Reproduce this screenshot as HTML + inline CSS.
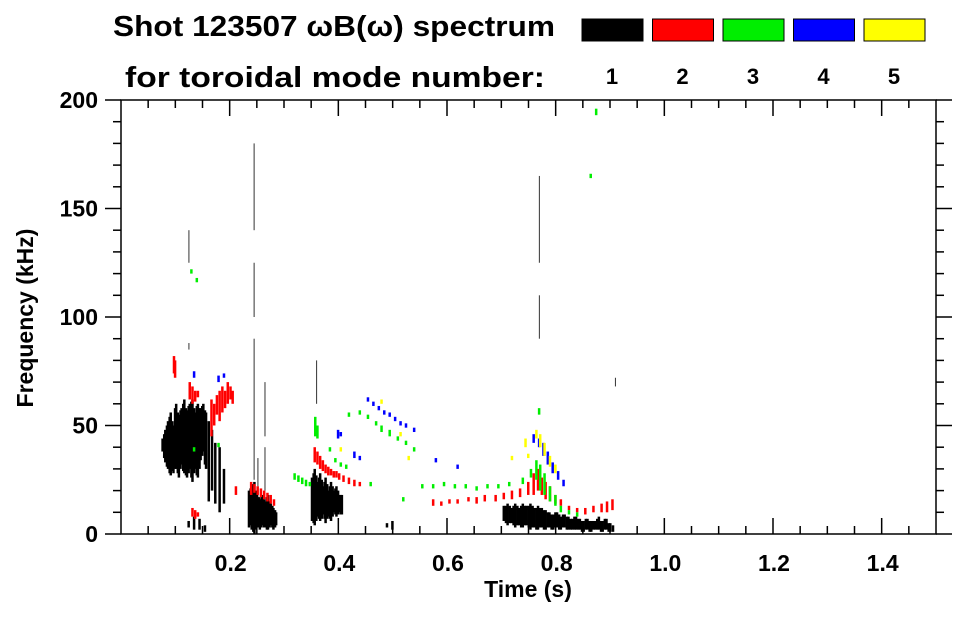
<!DOCTYPE html>
<html><head><meta charset="utf-8"><style>
body{margin:0;background:#fff;}
svg text{font-family:"Liberation Sans",Arial,sans-serif;font-weight:bold;fill:#000;}
</style></head><body>
<svg id="chart" width="963" height="615" viewBox="0 0 963 615" xmlns="http://www.w3.org/2000/svg">
<text x="113" y="36" font-size="29" textLength="442" lengthAdjust="spacingAndGlyphs">Shot 123507 ωB(ω) spectrum</text>
<text x="125" y="87" font-size="29" textLength="420" lengthAdjust="spacingAndGlyphs">for toroidal mode number:</text>
<g id="legend"></g>
<g id="marks"></g>
<g id="axes"></g>
<text x="528" y="597" font-size="23" text-anchor="middle">Time (s)</text>
<text transform="translate(33,318) rotate(-90)" font-size="23" text-anchor="middle">Frequency (kHz)</text>
</svg>
<script>
// data: [time s, freq low kHz, freq high kHz]
const modeLabels = ["1","2","3","4","5"];
const modeColors = ["#000000","#ff0000","#00ee00","#0000ff","#ffff00"];
const xTicks = [0.2,0.4,0.6,0.8,1.0,1.2,1.4];
const xTickLabels = ["0.2","0.4","0.6","0.8","1.0","1.2","1.4"];
const yTicks = [0,50,100,150,200];
const mode1 = [
 [0.077,38,44],[0.080,35,46],[0.082,33,48],[0.085,31,50],[0.087,30,52],[0.090,28,54],[0.092,27,56],[0.095,29,52],[0.097,28,50],[0.100,30,58],[0.102,30,60],[0.105,28,56],[0.107,26,55],[0.110,30,57],[0.112,32,58],
 [0.115,29,60],[0.117,28,62],[0.120,27,58],[0.122,26,57],[0.125,28,59],[0.127,30,60],[0.130,26,61],[0.132,24,62],[0.135,28,58],[0.137,30,56],[0.140,27,59],[0.142,26,60],[0.145,30,58],[0.147,34,58],[0.150,36,59],[0.152,38,60],
 [0.155,32,57],[0.157,30,56],[0.162,15,52],[0.168,20,48],[0.174,14,42],[0.182,10,40],[0.190,14,30],
 [0.125,3,6],[0.135,2,8],[0.145,2,7],[0.155,1,4],
 [0.236,3,20],[0.239,4,21],[0.241,2,22],[0.244,1,23],[0.246,0,24],[0.249,2,20],[0.251,3,19],[0.254,3,17],[0.256,2,16],[0.259,3,17],[0.261,4,18],[0.264,3,16],[0.266,3,15],[0.269,2,17],[0.271,2,18],[0.274,3,15],[0.276,4,14],[0.279,3,13],[0.281,2,12],[0.284,3,11],[0.286,4,10],
 [0.352,6,26],[0.355,5,28],[0.357,4,30],[0.360,6,27],[0.362,8,24],[0.365,7,26],[0.367,6,28],[0.370,7,25],[0.372,9,22],[0.375,7,24],[0.377,5,26],[0.380,7,23],[0.382,8,20],[0.385,7,22],[0.387,6,24],[0.390,8,22],[0.392,10,20],[0.395,9,21],[0.397,8,22],[0.400,9,20],[0.402,10,18],[0.405,9,18],[0.407,9,18],
 [0.49,3,5],[0.50,2,6],
 [0.705,6,13],[0.709,5,13],[0.712,4,14],[0.716,5,13],[0.719,5,12],[0.723,4,13],[0.726,3,14],[0.730,4,13],[0.733,4,12],[0.737,3,13],[0.740,3,14],[0.744,4,13],[0.747,4,13],[0.751,3,13],[0.754,2,14],[0.758,3,13],[0.761,3,12],[0.765,2,12],[0.768,2,13],[0.772,3,12],[0.775,3,12],
 [0.779,2,11],[0.782,2,11],[0.786,3,10],[0.789,3,10],[0.793,2,9],[0.796,2,9],[0.800,3,10],[0.803,3,10],[0.807,2,9],[0.810,2,8],[0.814,3,9],[0.817,3,9],[0.821,2,8],[0.824,2,8],[0.828,2,7],[0.831,2,7],[0.835,2,8],[0.838,2,8],[0.842,2,7],[0.845,2,7],[0.849,1,6],[0.852,1,6],[0.856,2,7],[0.859,2,7],
 [0.863,1,6],[0.866,1,6],[0.870,2,6],[0.873,2,6],[0.877,2,7],[0.880,2,8],[0.884,1,6],[0.887,1,6],[0.891,2,7],[0.894,2,7],[0.898,1,5],[0.901,1,5],[0.906,1,4]
];
// thin vertical streaks (mode 1)
const mode1Spikes = [
 [0.125,85,88],[0.125,125,140],[0.245,25,90],[0.245,100,125],[0.245,140,180],[0.265,20,40],[0.265,45,70],[0.252,22,35],
 [0.36,60,80],[0.77,90,110],[0.77,125,165],[0.91,68,72]
];
const mode2 = [
 [0.098,74,82],[0.100,72,80],[0.127,62,70],[0.132,60,68],[0.137,61,66],[0.142,63,66],
 [0.167,45,62],[0.172,50,60],[0.177,55,64],[0.182,52,66],[0.187,56,68],[0.192,58,66],[0.197,60,70],[0.202,62,68],[0.206,60,66],
 [0.132,8,12],[0.137,7,11],[0.142,8,10],[0.212,18,22],
 [0.240,18,24],[0.246,19,23],[0.252,18,22],[0.258,17,21],[0.264,16,20],[0.270,15,19],[0.276,14,18],[0.282,13,16],
 [0.357,33,40],[0.362,32,38],[0.367,30,36],[0.372,29,34],[0.377,28,32],[0.382,27,31],[0.387,27,30],[0.392,26,29],[0.397,26,29],[0.402,25,28],[0.410,24,27],[0.420,23,26],[0.430,22,25],[0.440,22,24],
 [0.575,13,16],[0.590,13,15],[0.605,14,16],[0.620,14,16],[0.640,15,17],[0.655,14,17],[0.670,15,18],[0.690,15,18],[0.705,16,19],
 [0.720,16,20],[0.735,17,21],[0.750,18,24],[0.760,18,28],[0.768,20,30],[0.775,18,26],[0.782,16,24],[0.790,15,22],[0.800,14,18],[0.810,13,16],
 [0.825,11,13],[0.840,10,12],[0.855,9,12],[0.870,10,13],[0.885,10,14],[0.895,10,15],[0.905,11,16]
];
const mode3 = [
 [0.135,38,40],[0.14,116,118],[0.13,120,122],[0.18,40,42],
 [0.320,25,28],[0.327,24,27],[0.334,23,26],[0.341,22,25],[0.348,22,24],
 [0.358,45,54],[0.362,44,50],[0.385,38,40],[0.395,33,35],[0.405,31,33],[0.415,30,32],
 [0.420,54,56],[0.440,55,57],[0.455,53,55],[0.470,50,52],[0.480,47,50],[0.495,45,48],[0.510,43,45],[0.525,41,43],[0.540,38,40],
 [0.460,22,24],[0.52,15,17],[0.555,21,23],[0.575,21,23],[0.595,22,24],[0.615,21,23],[0.635,21,23],[0.655,20,22],[0.675,21,23],[0.695,21,23],[0.715,22,24],
 [0.740,23,26],[0.755,26,30],[0.765,25,34],[0.772,20,32],[0.780,18,28],[0.790,15,22],[0.800,13,18],[0.810,10,13],[0.825,9,11],[0.84,8,10],
 [0.77,55,58],[0.865,164,166],[0.875,193,196]
];
const mode4 = [
 [0.135,72,75],[0.180,70,73],[0.190,72,74],
 [0.400,44,48],[0.405,45,47],[0.430,35,38],[0.440,34,36],
 [0.455,61,63],[0.465,59,61],[0.475,57,59],[0.485,55,57],[0.495,54,56],[0.505,52,54],[0.515,50,52],[0.525,49,51],[0.540,47,49],
 [0.760,42,46],[0.770,40,44],[0.778,36,42],[0.786,32,38],[0.795,28,33],[0.805,25,29],[0.815,22,25],[0.58,33,35],[0.62,30,32]
];
const mode5 = [
 [0.405,38,40],[0.480,60,62],[0.515,45,47],[0.530,34,36],
 [0.745,40,44],[0.765,44,48],[0.772,40,46],[0.780,36,42],[0.790,31,36],[0.800,28,32],[0.72,34,36],[0.75,35,37]
];
const modes = [mode1, mode2, mode3, mode4, mode5];

const X0=121, X1=936, Y0=534, Y1=100, XMAX=1.5, YMAX=200;
const xs = t => X0 + t/XMAX*(X1-X0);
const ys = f => Y0 - f/YMAX*(Y0-Y1);
const NS="http://www.w3.org/2000/svg";
function mk(tag, attrs, parent){const e=document.createElementNS(NS,tag);for(const k in attrs)e.setAttribute(k,attrs[k]);parent.appendChild(e);return e;}

const legend=document.getElementById('legend');
modeLabels.forEach((lab,i)=>{
  const bx=582+i*70.5;
  const r=mk('rect',{x:bx,y:19,width:61,height:22,fill:modeColors[i],stroke:'#000','stroke-width':1},legend);
  
  
  const t=mk('text',{x:bx+30,y:84,'font-size':22,'text-anchor':'middle'},legend);
  t.textContent=lab;
  
  
});

const marks=document.getElementById('marks');
modes.forEach((arr,mi)=>{
  arr.forEach(d=>{
    const yTop=ys(d[2]), yBot=ys(d[1]);
    const r=mk('rect',{x:xs(d[0])-1.5,y:yTop,width:2.5,height:Math.max(1.5,yBot-yTop),fill:modeColors[mi]},marks);
    
    
  });
});
mode1Spikes.forEach(d=>{
  const yTop=ys(d[2]), yBot=ys(d[1]);
  const r=mk('rect',{x:xs(d[0])-0.5,y:yTop,width:1,height:Math.max(1.5,yBot-yTop),fill:'#333'},marks);
  
  
});

const axes=document.getElementById('axes');
const fr=mk('rect',{x:X0,y:Y1,width:X1-X0,height:Y0-Y1,fill:'none',stroke:'#000','stroke-width':1.5},axes);


for(let t=0.05;t<XMAX-0.001;t+=0.05){
  const major=Math.abs(t/0.2-Math.round(t/0.2))<0.01;
  const L=major?16:8;
  mk('line',{x1:xs(t),x2:xs(t),y1:Y0,y2:Y0-L,stroke:'#000','stroke-width':1.5},axes);
  mk('line',{x1:xs(t),x2:xs(t),y1:Y1,y2:Y1+L,stroke:'#000','stroke-width':1.5},axes);
}
for(let f=0;f<=YMAX;f+=10){
  const major=f%50===0;
  const L=major?16:8;
  mk('line',{x1:X0,x2:X0-L,y1:ys(f),y2:ys(f),stroke:'#000','stroke-width':1.5},axes);
  mk('line',{x1:X1,x2:X1+L,y1:ys(f),y2:ys(f),stroke:'#000','stroke-width':1.5},axes);
}
xTicks.forEach((t,i)=>{
  const e=mk('text',{x:xs(t)+1,y:571,'font-size':23,'text-anchor':'middle'},axes);
  e.textContent=xTickLabels[i];
  
  
});
yTicks.forEach(f=>{
  const e=mk('text',{x:98,y:ys(f)+8,'font-size':23,'text-anchor':'end'},axes);
  e.textContent=String(f);
  
  
});
</script>
</body></html>
